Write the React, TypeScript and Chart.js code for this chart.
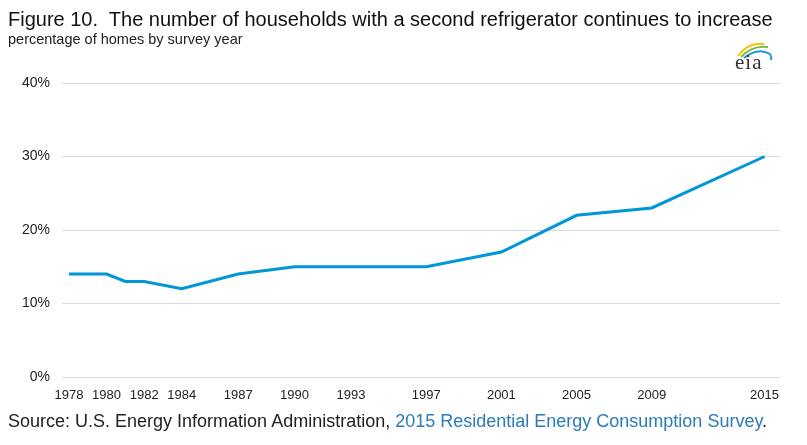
import React, { useEffect, useRef } from "react";
import { Chart, registerables } from "chart.js";

Chart.register(...registerables);

const surveyYears = [1978, 1979, 1980, 1981, 1982, 1984, 1987, 1990, 1993, 1997, 2001, 2005, 2009, 2015];
const secondFridgeShare = [14, 14, 14, 13, 13, 12, 14, 15, 15, 15, 17, 22, 23, 30];
const xTickYears = [1978, 1980, 1982, 1984, 1987, 1990, 1993, 1997, 2001, 2005, 2009, 2015];
const yTickValues = [0, 10, 20, 30, 40];

const titleText = "Figure 10.  The number of households with a second refrigerator continues to increase";
const subtitleText = "percentage of homes by survey year";
const sourcePrefix = "Source: U.S. Energy Information Administration, ";
const sourceLink = "2015 Residential Energy Consumption Survey";

const FONT = "'Liberation Sans', Arial, sans-serif";

export default function App() {
  const canvasRef = useRef<HTMLCanvasElement | null>(null);

  useEffect(() => {
    document.body.style.margin = "0";
    const ctx = canvasRef.current;
    if (!ctx) return;
    const chart = new Chart(ctx, {
      type: "line",
      data: {
        datasets: [
          {
            data: surveyYears.map((y, i) => ({ x: y, y: secondFridgeShare[i] })),
            borderColor: "#0096d7",
            borderWidth: 3,
            pointRadius: 0,
            fill: false,
            tension: 0,
          },
        ],
      },
      options: {
        animation: false,
        responsive: false,
        devicePixelRatio: 1,
        layout: { padding: { top: 83, right: 27, bottom: 40, left: 0 } },
        plugins: { legend: { display: false }, tooltip: { enabled: false } },
        scales: {
          x: {
            type: "linear",
            min: 1977.63,
            max: 2015.82,
            grid: { display: false },
            border: { display: false },
            afterBuildTicks: (axis: any) => {
              axis.ticks = xTickYears.map((v) => ({ value: v }));
            },
            afterFit: (s: any) => {
              s.height = 28;
            },
            ticks: {
              autoSkip: false,
              maxRotation: 0,
              padding: 3,
              color: "#222",
              font: { family: FONT, size: 13 },
              callback: (v: any) => String(v),
            },
          },
          y: {
            min: 0,
            max: 40,
            afterBuildTicks: (axis: any) => {
              axis.ticks = yTickValues.map((v) => ({ value: v }));
            },
            afterFit: (s: any) => {
              s.width = 62;
            },
            grid: { color: "#d9d9d9", lineWidth: 1, drawTicks: false },
            border: { display: false },
            ticks: {
              padding: 12,
              color: "#222",
              font: { family: FONT, size: 14 },
              callback: (v: any) => v + "%",
            },
          },
        },
      },
    });
    return () => chart.destroy();
  }, []);

  return (
    <div style={{ position: "relative", width: 807, height: 445, background: "#fff", overflow: "hidden", fontFamily: FONT }}>
      <canvas ref={canvasRef} width={807} height={445} style={{ position: "absolute", left: 0, top: 0 }} />
      <div style={{ position: "absolute", left: 8, top: 7, fontSize: 20, color: "#111", whiteSpace: "pre", lineHeight: "24px" }}>
        {titleText}
      </div>
      <div style={{ position: "absolute", left: 8, top: 31, fontSize: 14.5, color: "#222", whiteSpace: "pre", lineHeight: "16px" }}>
        {subtitleText}
      </div>
      <div style={{ position: "absolute", left: 8, top: 411, fontSize: 18, color: "#222", whiteSpace: "pre", lineHeight: "20px" }}>
        {sourcePrefix}
        <span style={{ color: "#2b7bb9" }}>{sourceLink}</span>.
      </div>
      <svg width={50} height={34} viewBox="0 0 50 34" style={{ position: "absolute", left: 728, top: 40 }}>
        <path d="M10 16 Q20 2 36 4" stroke="#f5c400" strokeWidth={2} fill="none" />
        <path d="M13 17 Q24 5 40 7" stroke="#7cbc42" strokeWidth={2} fill="none" />
        <path d="M16 18 Q30 7 42 14 Q44 17 43 20" stroke="#1c9ad6" strokeWidth={2} fill="none" />
        <text x={7} y={29} fontFamily="'Liberation Serif', 'DejaVu Serif', serif" fontSize={21} fill="#333" letterSpacing={1}>eia</text>
      </svg>
    </div>
  );
}
